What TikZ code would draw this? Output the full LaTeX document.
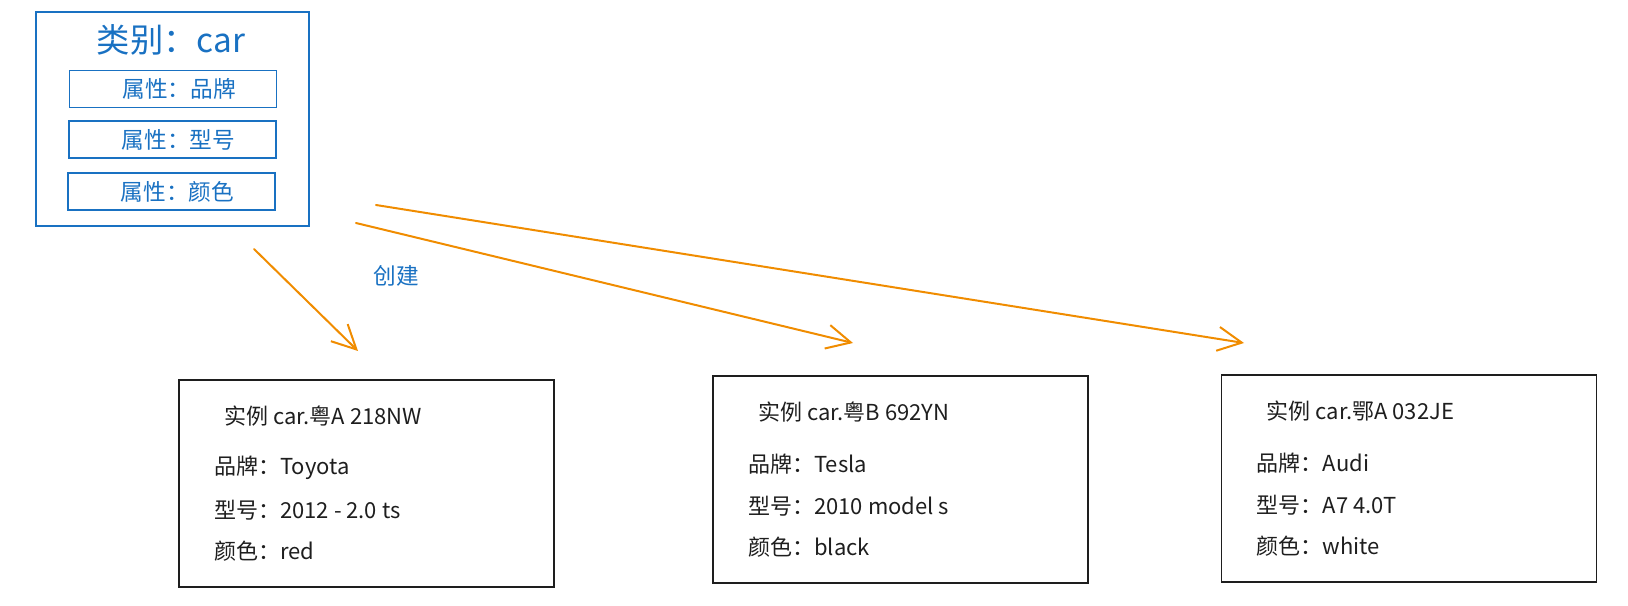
\documentclass[tikz,border=0pt]{standalone}
\usepackage{fontspec}
\setmainfont{Noto Sans CJK SC}
\usetikzlibrary{arrows.meta}
\definecolor{clsblue}{HTML}{1971C2}
\definecolor{arrorange}{HTML}{F08C00}
\definecolor{inkblack}{HTML}{1E1E1E}

\begin{document}
\begin{tikzpicture}[x=0.75pt, y=-0.75pt]

\useasboundingbox (0,0) rectangle (1628,606);

\tikzset{%
    class box/.style={draw=clsblue, line width=1.5pt, minimum width=204.75pt, minimum height=160.5pt},
    prop box/.style={draw=clsblue, line width=1.3pt, minimum width=155.25pt, minimum height=27.75pt},
    inst box/.style={draw=inkblack, line width=1.4pt, minimum width=281.25pt, minimum height=155.25pt},
    blue text/.style={text=clsblue, font=\fontsize{17}{20}\selectfont, inner sep=0pt},
    inst text/.style={text=inkblack, font=\fontsize{16.5}{20}\selectfont, anchor=west, inner sep=0pt},
    create arrow/.style={draw=arrorange, line width=1.5pt, line cap=round,
        -{Straight Barb[length=18pt, width=18pt]}}
}

% class
\node[class box] (car) at (172.5,119) {};
\node[blue text, font=\fontsize{25}{30}\selectfont] (car title) at (171,40) {类别：car};
\foreach \i/\x/\y/\prop in {1/173/89/品牌, 2/172.5/139.5/型号, 3/171.5/191.5/颜色} {
    \node[prop box] (prop\i) at (\x,\y) {};
    \node[blue text] (prop\i label) at (\x+6,\y) {属性：\prop};
}

% instances
\foreach \i/\x/\y in {1/366.5/483.5, 2/900.5/479.5, 3/1409/478.5} {
    \node[inst box] (inst\i) at (\x,\y) {};
}
\foreach \i/\plate/\brand/\model/\colour in {1/粤A 218NW/Toyota/2012 - 2.0 ts/red,
        2/粤B 692YN/Tesla/2010 model s/black, 3/鄂A 032JE/Audi/A7 4.0T/white} {
    \node[inst text] (inst\i title) at ([shift={(46,37)}]inst\i.north west) {实例 car.\plate};
    \node[inst text] (inst\i brand) at ([shift={(36,89)}]inst\i.north west) {品牌：\brand};
    \node[inst text] (inst\i model) at ([shift={(36,131)}]inst\i.north west) {型号：\model};
    \node[inst text] (inst\i colour) at ([shift={(36,172)}]inst\i.north west) {颜色：\colour};
}

% create arrows
\coordinate (from1) at (254,249);
\coordinate (to1) at (358,351);
\coordinate (from2) at (356,223);
\coordinate (to2) at (853,343);
\coordinate (from3) at (376,205);
\coordinate (to3) at (1244,343);
\foreach \i in {1,2,3} {
    \draw[create arrow] (from\i) -- (to\i);
}
\node[blue text] (create label) at (396,276) {创建};

\end{tikzpicture}
\end{document}
